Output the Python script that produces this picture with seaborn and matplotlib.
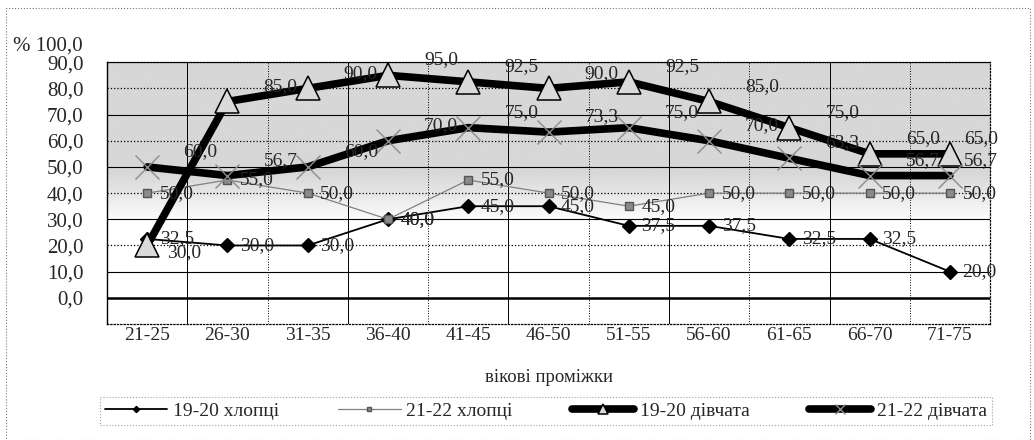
# line chart of four groups by age interval (scanned excel look)
import matplotlib
matplotlib.use("Agg")
import matplotlib.pyplot as plt
import seaborn as sns
import numpy as np
import pandas as pd
from matplotlib.patches import Rectangle

# data
age_groups = ["21-25", "26-30", "31-35", "36-40", "41-45", "46-50",
              "51-55", "56-60", "61-65", "66-70", "71-75"]
boys_19_20 = [32.5, 30.0, 30.0, 40.0, 45.0, 45.0, 37.5, 37.5, 32.5, 32.5, 20.0]
boys_21_22 = [50.0, 55.0, 50.0, 40.0, 55.0, 50.0, 45.0, 50.0, 50.0, 50.0, 50.0]
girls_19_20 = [30.0, 85.0, 90.0, 95.0, 92.5, 90.0, 92.5, 85.0, 75.0, 65.0, 65.0]
girls_21_22 = [60.0, 56.7, 60.0, 70.0, 75.0, 73.3, 75.0, 70.0, 63.3, 56.7, 56.7]
series_names = ["19-20 хлопці", "21-22 хлопці", "19-20 дівчата", "21-22 дівчата"]
y_tick_labels = ["0,0", "10,0", "20,0", "30,0", "40,0", "50,0", "60,0", "70,0", "80,0", "90,0"]
y_top_label = "% 100,0"
x_title = "вікові проміжки"

sns.set_style("white")
plt.rcParams["font.family"] = ["Liberation Serif", "DejaVu Serif"]

fig = plt.figure(figsize=(10.34, 4.4), dpi=100)
ax = fig.add_axes([0.1035, 0.2636, 0.854, 0.595])

# shaded upper background of the plot area
yy = np.linspace(0, 1, 200)
grad = np.clip(1.0 - (yy - 0.38) / 0.2 * 0.16, 0.84, 1.0)[:, None]
ax.imshow(grad, extent=(0, 1, 0, 1), transform=ax.transAxes, origin="lower",
          cmap="gray", vmin=0, vmax=1, aspect="auto", zorder=0)

df = pd.DataFrame({"age": age_groups, series_names[0]: boys_19_20,
                   series_names[1]: boys_21_22, series_names[2]: girls_19_20,
                   series_names[3]: girls_21_22})

styles = {
    series_names[0]: dict(color="black", lw=1.3, marker="D", ms=7, mfc="black", mec="black"),
    series_names[1]: dict(color="#808080", lw=0.9, marker="s", ms=6, mfc="#8a8a8a", mec="#555555"),
    series_names[2]: dict(color="black", lw=5.5, marker="^", ms=17, mfc="#dadada", mec="black", mew=1.1),
    series_names[3]: dict(color="black", lw=5.5, marker="x", ms=17, mec="#8c8c8c", mew=1.0),
}
for name in series_names:
    st = styles[name]
    sns.lineplot(data=df, x="age", y=name, ax=ax, sort=False, label=name,
                 color=st["color"], lw=st["lw"], marker=st["marker"], ms=st["ms"],
                 mfc=st.get("mfc", "none"), mec=st["mec"], mew=st.get("mew", 1.0), zorder=3)

# data labels
offsets = {series_names[0]: (9, 0), series_names[1]: (9, 0),
           series_names[2]: (26, 11), series_names[3]: (26, 11)}
for name in series_names:
    dx, dy = offsets[name]
    for i, v in enumerate(df[name]):
        ddx, ddy = dx, dy
        if name == series_names[2] and i == 0:
            ddx, ddy = 14, -5
        if name in series_names[2:] and i == len(age_groups) - 1:
            ddx = 10
        ax.annotate(f"{v:.1f}".replace(".", ","), (i, v), xytext=(ddx, ddy),
                    textcoords="offset points", ha="left", va="center",
                    fontsize=14, zorder=5, annotation_clip=False)

ax.set_xlim(-0.5, len(age_groups) - 0.5)
ax.set_ylim(0, 100)
y_pos = np.arange(10, 101, 10)
ax.set_yticks(y_pos)
ax.set_yticklabels(y_tick_labels, fontsize=15)
ax.set_xticks(range(len(age_groups)))
ax.set_xticklabels(age_groups, fontsize=14)
ax.tick_params(axis="y", length=4, pad=13, color="black")
ax.tick_params(axis="x", length=0, pad=2)
ax.set_ylabel("")
ax.set_xlabel(x_title, fontsize=13.5, labelpad=18)
fig.text(83 / 1034, 1 - 46 / 440, y_top_label, ha="right", va="center", fontsize=15)

# grid lines
for k, t in enumerate(y_pos):
    if t == 10:
        ax.axhline(t, color="black", lw=1.8, zorder=1)
    elif k % 2 == 0:
        ax.axhline(t, color="black", lw=0.9, ls=":", zorder=1)
    else:
        ax.axhline(t, color="black", lw=0.8, zorder=1)
for k in range(len(age_groups) - 1):
    ax.axvline(k + 0.5, color="black", lw=0.7, ls="-" if k % 2 == 0 else ":", zorder=1)

for side in ["top", "right", "bottom"]:
    ax.spines[side].set_linestyle(":")
    ax.spines[side].set_color("black")
    ax.spines[side].set_linewidth(0.9)
ax.spines["left"].set_color("black")
ax.spines["left"].set_linewidth(1.0)

# legend in a dotted box under the chart
handles, labels = ax.get_legend_handles_labels()
ax.get_legend().remove()
leg = fig.legend(handles, labels, ncol=4, loc="lower left",
                 bbox_to_anchor=(100 / 1034, 0.035, 892 / 1034, 0.07), mode="expand",
                 fontsize=14, handlelength=3.2, handletextpad=0.3, frameon=True,
                 fancybox=False, borderaxespad=0, markerscale=0.45, borderpad=0.25)
leg.get_frame().set_edgecolor("#888888")
leg.get_frame().set_linestyle(":")
leg.get_frame().set_linewidth(0.8)

# dotted chart border
fig.patches.append(Rectangle((0.006, 0.0), 0.99, 0.982, transform=fig.transFigure,
                             fill=False, ls=":", lw=0.8, ec="#777777"))

fig.savefig("out.png", dpi=100)
